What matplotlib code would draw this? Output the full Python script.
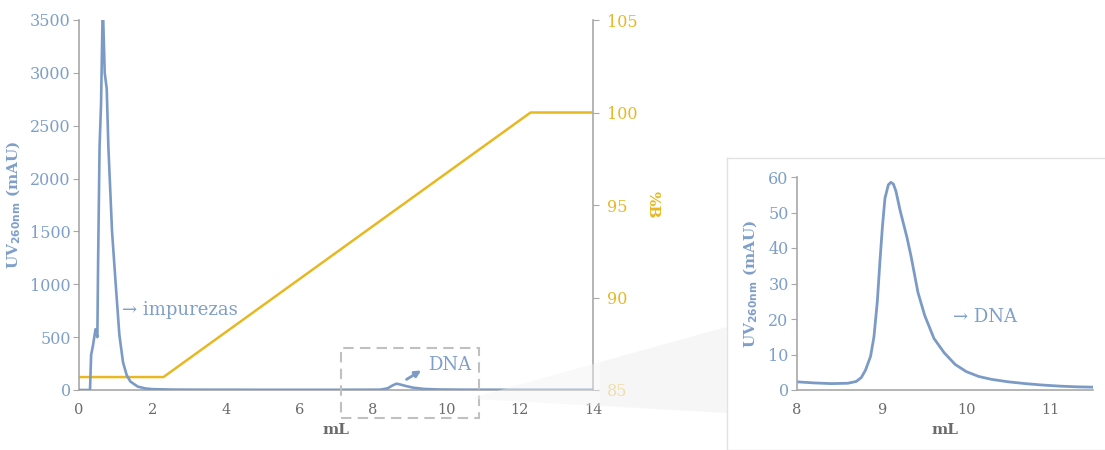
import matplotlib
matplotlib.use("Agg")
import matplotlib.pyplot as plt
from matplotlib.patches import Polygon, Rectangle
import numpy as np

plt.rcParams['font.family'] = ['DejaVu Serif']

BLUE = '#7b9bc6'
BLUE_TXT = '#7f9fca'
YEL = '#e8b823'
TXT_GRAY = '#6b6b6b'

# ---- main chromatogram (UV 260 nm, mAU) ----
uv_ml = [0, 0.30, 0.33, 0.38, 0.45, 0.50, 0.52, 0.56, 0.60, 0.64, 0.66, 0.70, 0.755,
         0.80, 0.85, 0.90, 1.00, 1.10, 1.20, 1.30, 1.40, 1.60, 1.80, 2.00, 2.50, 3.0,
         5.0, 7.0, 8.2, 8.4, 8.55, 8.65, 8.75, 8.9, 9.1, 9.4, 9.8, 10.5, 12.0, 14.0]
uv_mau = [0, 0, 330, 420, 575, 500, 1200, 2300, 2700, 3500, 3500, 3000, 2850,
          2300, 1900, 1500, 1000, 520, 260, 140, 80, 32, 15, 8, 4, 3,
          2, 2, 3, 15, 45, 60, 52, 38, 22, 10, 5, 3, 2, 2]

# ---- gradient (%B) ----
grad_ml = [0, 2.3, 12.3, 14.0]
grad_b = [85.7, 85.7, 100.0, 100.0]

# ---- zoomed DNA peak ----
dna_ml = [8.0, 8.2, 8.4, 8.6, 8.7, 8.76, 8.81, 8.87, 8.91, 8.95, 8.98, 9.01, 9.04,
          9.08, 9.11, 9.14, 9.17, 9.22, 9.30, 9.35, 9.43, 9.51, 9.62, 9.74, 9.87,
          10.0, 10.15, 10.3, 10.5, 10.7, 10.9, 11.1, 11.3, 11.5]
dna_mau = [2.3, 2.0, 1.8, 1.9, 2.4, 3.5, 5.6, 9.5, 15.0, 25.0, 36.0, 46.0, 54.0,
           57.8, 58.5, 58.0, 56.0, 50.5, 43.0, 37.5, 27.5, 21.0, 14.5, 10.5, 7.2,
           5.2, 3.8, 3.0, 2.3, 1.8, 1.4, 1.1, 0.9, 0.8]

fig = plt.figure(figsize=(11.05, 4.5), dpi=100)
W, H = 1105, 450

def fx(p):
    return p / W

def fy(p):
    return 1 - p / H

# zoom panel frame (own background axes)
frame = fig.add_axes([fx(727), 0, 1 - fx(727) + 0.01, fy(158)])
frame.set_xticks([]); frame.set_yticks([])
for s in frame.spines.values():
    s.set_color('#e2e2e2'); s.set_linewidth(1.0)
frame.set_zorder(0)

# main axes
ax = fig.add_axes([fx(79), fy(390), fx(593) - fx(79), fy(20) - fy(390)])
ax.plot(uv_ml, uv_mau, color=BLUE, lw=1.9, solid_joinstyle='round', zorder=3)
ax.set_xlim(0, 14)
ax.set_ylim(0, 3500)
ax.set_xticks(range(0, 15, 2))
ax.set_yticks(range(0, 3501, 500))
ax.spines['top'].set_visible(False)
ax.spines['right'].set_visible(False)
for s in ['left', 'bottom']:
    ax.spines[s].set_color('#a8a8a8')
    ax.spines[s].set_linewidth(1.2)
ax.tick_params(axis='x', length=0, colors=TXT_GRAY, labelsize=10.5, pad=9)
ax.tick_params(axis='y', length=4, color='#a8a8a8', labelcolor=BLUE_TXT, labelsize=11.5, pad=2)
ax.set_ylabel(r'UV$_{\mathbf{260nm}}$ (mAU)', color=BLUE_TXT, fontsize=11, fontweight='bold', labelpad=5)
ax.set_xlabel('mL', color=TXT_GRAY, fontsize=11, fontweight='bold', labelpad=5)

ax2 = ax.twinx()
ax2.plot(grad_ml, grad_b, color=YEL, lw=1.8, zorder=2)
ax2.set_ylim(85, 105)
ax2.set_yticks([85, 90, 95, 100, 105])
for s in ['top', 'left', 'bottom']:
    ax2.spines[s].set_visible(False)
ax2.spines['right'].set_color('#a8a8a8')
ax2.spines['right'].set_linewidth(1.2)
ax2.tick_params(axis='y', length=4, color='#a8a8a8', labelcolor=YEL, labelsize=11.5, pad=6)
ax2.set_ylabel('%B', color=YEL, fontsize=11, fontweight='bold', rotation=270, labelpad=16)
ax.set_zorder(ax2.get_zorder() + 1)
ax.patch.set_visible(False)

ax.text(1.18, 760, '\u2192 impurezas', color=BLUE_TXT, fontsize=13, va='center')
ax.text(9.5, 235, 'DNA', color=BLUE_TXT, fontsize=13, va='center')
ax.annotate('', xy=(9.32, 185), xytext=(8.92, 100),
            arrowprops=dict(arrowstyle='-|>', color=BLUE, lw=2.0, mutation_scale=9,
                            shrinkA=0, shrinkB=0))

# dashed box
ax.add_patch(Rectangle((7.13, -265), 3.77, 665, fill=False, ls=(0, (5, 3)),
                       ec='#c0c0c0', lw=1.5, clip_on=False, zorder=4))

# wedge
fig.patches.append(Polygon([(fx(475), fy(397)), (fx(727), fy(327)), (fx(727), fy(413)), (fx(475), fy(399))],
                           closed=True, transform=fig.transFigure, fc='#f2f2f2', ec='none',
                           alpha=0.45, zorder=5))
fig.patches.append(Polygon([(fx(600), fy(362)), (fx(727), fy(327)), (fx(727), fy(413)), (fx(600), fy(405))],
                           closed=True, transform=fig.transFigure, fc='#f2f2f2', ec='none',
                           alpha=0.4, zorder=5))

# zoom axes
az = fig.add_axes([fx(797), fy(390), fx(1093) - fx(797), fy(177) - fy(390)])
az.set_zorder(3)
az.patch.set_visible(False)
az.plot(dna_ml, dna_mau, color=BLUE, lw=2.0, solid_joinstyle='round')
az.set_xlim(8, 11.5)
az.set_ylim(0, 60)
az.set_xticks([8, 9, 10, 11])
az.set_yticks(range(0, 61, 10))
for s in ['top', 'right']:
    az.spines[s].set_visible(False)
for s in ['left', 'bottom']:
    az.spines[s].set_color('#a8a8a8')
    az.spines[s].set_linewidth(1.2)
az.tick_params(axis='x', length=0, colors=TXT_GRAY, labelsize=10.5, pad=9)
az.tick_params(axis='y', length=4, color='#a8a8a8', labelcolor=BLUE_TXT, labelsize=11.5, pad=2)
az.set_ylabel(r'UV$_{\mathbf{260nm}}$ (mAU)', color=BLUE_TXT, fontsize=11, fontweight='bold', labelpad=6)
az.set_xlabel('mL', color=TXT_GRAY, fontsize=11, fontweight='bold', labelpad=5)
az.text(9.85, 20.5, '\u2192 DNA', color=BLUE_TXT, fontsize=13, va='center')

fig.savefig('out.png', dpi=100)
